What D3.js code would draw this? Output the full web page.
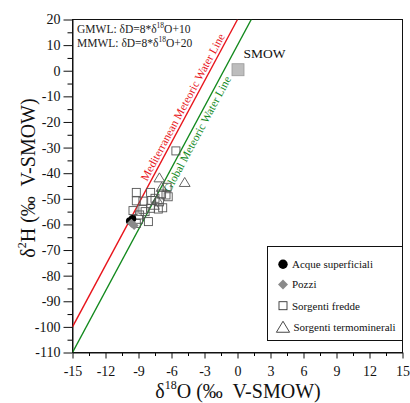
<!DOCTYPE html>
<html>
<head>
<meta charset="utf-8">
<script src="https://cdn.jsdelivr.net/npm/d3@7"></script>
<style>
  html, body { margin: 0; padding: 0; background: #fff; }
  svg { display: block; }
  text { font-family: "Liberation Serif", "Times New Roman", serif !important; }
</style>
</head>
<body>
<svg id="chart" width="410" height="403"></svg>
<script>
// Axis ticks
const xTicks = [-15, -12, -9, -6, -3, 0, 3, 6, 9, 12, 15];
const xMinorTicks = [-13.5, -10.5, -7.5, -4.5, -1.5, 1.5, 4.5, 7.5, 10.5, 13.5];
const yTicks = [20, 10, 0, -10, -20, -30, -40, -50, -60, -70, -80, -90, -100, -110];
const yMinorTicks = [15, 5, -5, -15, -25, -35, -45, -55, -65, -75, -85, -95, -105];

// Meteoric water lines: δD = slope * δ18O + intercept
const gmwl = { slope: 8, intercept: 10 };
const mmwl = { slope: 8, intercept: 20 };

// Samples [δ18O, δ2H]
const acqueSuperficiali = [[-9.8, -58.7], [-9.55, -57.8]];
const pozzi = [[-9.4, -60.4], [-9.65, -59.5]];
const sorgentiFredde = [
  [-5.6, -31.3], [-9.2, -47.5], [-7.9, -47.5], [-6.4, -45.5], [-6.9, -48.1],
  [-8.6, -50.9], [-7.8, -50.7], [-7.1, -51.2], [-6.5, -48.5], [-9.5, -54.6],
  [-8.6, -54.1], [-7.9, -53.7], [-7.2, -54.0], [-6.8, -53.5], [-9.0, -58.0],
  [-8.1, -58.9], [-9.2, -59.6], [-8.9, -56.3], [-8.4, -55.0], [-7.5, -49.8],
  [-9.2, -50.8], [-6.3, -49.2]
];
const sorgentiTermominerali = [[-7.1, -41.8], [-4.8, -43.6], [-6.9, -45.5], [-7.3, -50.3], [-7.6, -52.5]];
const smow = [[0, 0]];

const svg = d3.select("#chart");
const serif = "Liberation Serif";

const x = d3.scaleLinear().domain([-15, 15]).range([72.5, 402.5]);
const y = d3.scaleLinear().domain([-110, 20]).range([352.5, 19.5]);

const fmt = d => String(d);

// Minor ticks
svg.append("g")
  .attr("transform", `translate(0,${y(-110)})`)
  .call(d3.axisBottom(x).tickValues(xMinorTicks).tickSize(3.5).tickSizeOuter(0).tickFormat(""))
  .call(g => g.select(".domain").remove());
svg.append("g")
  .attr("transform", `translate(${x(-15)},0)`)
  .call(d3.axisLeft(y).tickValues(yMinorTicks).tickSize(5).tickSizeOuter(0).tickFormat(""))
  .call(g => g.select(".domain").remove());

// Major axes
const xAxis = svg.append("g")
  .attr("transform", `translate(0,${y(-110)})`)
  .call(d3.axisBottom(x).tickValues(xTicks).tickSize(6).tickSizeOuter(0).tickPadding(8).tickFormat(fmt));
const yAxis = svg.append("g")
  .attr("transform", `translate(${x(-15)},0)`)
  .call(d3.axisLeft(y).tickValues(yTicks).tickSize(9).tickSizeOuter(0).tickPadding(3).tickFormat(fmt));
[xAxis, yAxis].forEach(g => {
  g.attr("font-family", serif);
  g.selectAll("text").attr("font-family", serif).attr("font-size", 14).attr("fill", "#111");
  g.selectAll("line, path").attr("stroke", "#111");
});

// Frame
svg.append("rect")
  .attr("x", x(-15)).attr("y", y(20))
  .attr("width", x(15) - x(-15)).attr("height", y(-110) - y(20))
  .attr("fill", "none").attr("stroke", "#111").attr("stroke-width", 1);

// Water lines, clipped to the plot
svg.append("clipPath").attr("id", "plot-clip")
  .append("rect")
  .attr("x", x(-15)).attr("y", y(20))
  .attr("width", x(15) - x(-15)).attr("height", y(-110) - y(20));

function lineEnds(l) {
  const x0 = -15;
  const x1 = (20 - l.intercept) / l.slope;
  return [[x0, l.slope * x0 + l.intercept], [x1, 20]];
}
const lineGen = d3.line().x(d => x(d[0])).y(d => y(d[1]));
svg.append("path").attr("d", lineGen(lineEnds(mmwl)))
  .attr("clip-path", "url(#plot-clip)")
  .attr("stroke", "#e8141b").attr("stroke-width", 1.4).attr("fill", "none");
svg.append("path").attr("d", lineGen(lineEnds(gmwl)))
  .attr("clip-path", "url(#plot-clip)")
  .attr("stroke", "#11891c").attr("stroke-width", 1.4).attr("fill", "none");

// Line labels, parallel to the lines
const angle = Math.atan2(y(8) - y(0), x(1) - x(0)) * 180 / Math.PI;
function lineLabel(l, dD, text, color, dy) {
  const xv = (dD - l.intercept) / l.slope;
  svg.append("text")
    .attr("transform", `translate(${x(xv)},${y(dD)}) rotate(${angle})`)
    .attr("text-anchor", "middle")
    .attr("dy", dy)
    .attr("font-family", serif)
    .attr("font-size", 11.5)
    .attr("fill", color)
    .text(text);
}
lineLabel(mmwl, -15.5, "Mediterranean Meteoric Water Line", "#e8141b", -3);
lineLabel(gmwl, -23.5, "Global Meteoric Water Line", "#11891c", 10.5);

// Markers
const gPts = svg.append("g");
gPts.selectAll(".fredde").data(sorgentiFredde).join("rect")
  .attr("x", d => x(d[0]) - 4).attr("y", d => y(d[1]) - 4)
  .attr("width", 8).attr("height", 8)
  .attr("fill", "none").attr("stroke", "#555").attr("stroke-width", 0.9);

const tri = s => `M0,${-s * 0.55}L${s * 0.6},${s * 0.45}L${-s * 0.6},${s * 0.45}Z`;
gPts.selectAll(".termo").data(sorgentiTermominerali).join("path")
  .attr("transform", d => `translate(${x(d[0])},${y(d[1])})`)
  .attr("d", tri(9))
  .attr("fill", "none").attr("stroke", "#555").attr("stroke-width", 0.9);

gPts.selectAll(".acque").data(acqueSuperficiali).join("circle")
  .attr("cx", d => x(d[0])).attr("cy", d => y(d[1])).attr("r", 3.8)
  .attr("fill", "#000");

const diamond = s => `M0,${-s}L${s},0L0,${s}L${-s},0Z`;
gPts.selectAll(".pozzi").data(pozzi).join("path")
  .attr("transform", d => `translate(${x(d[0])},${y(d[1])})`)
  .attr("d", diamond(4.5))
  .attr("fill", "#8a8a8a");

// SMOW reference
svg.selectAll(".smow").data(smow).join("rect")
  .attr("x", d => x(d[0]) - 5.5).attr("y", d => y(d[1]) - 7)
  .attr("width", 12).attr("height", 12)
  .attr("fill", "#bdbdbd").attr("stroke", "#999").attr("stroke-width", 0.8);
svg.append("text").attr("x", x(0) + 6).attr("y", y(0) - 12.5)
  .attr("font-family", serif)
  .attr("font-size", 13.5).attr("fill", "#111").text("SMOW");

// Equations
function equation(yPos, label, tail) {
  const t = svg.append("text").attr("x", 77).attr("y", yPos)
    .attr("font-family", serif).attr("font-size", 11.5).attr("fill", "#222");
  t.append("tspan").text(label + " δD=8*δ");
  t.append("tspan").attr("font-size", 7.5).attr("dy", -5).text("18");
  t.append("tspan").attr("dy", 5).text("O+" + tail);
}
equation(32.5, "GMWL:", "10");
equation(47, "MMWL:", "20");

// Axis titles
const xt = svg.append("text").attr("x", 238).attr("y", 398)
  .attr("text-anchor", "middle").attr("font-family", serif).attr("font-size", 20).attr("fill", "#111")
  .style("white-space", "pre");
xt.append("tspan").text("δ");
xt.append("tspan").attr("font-size", 12).attr("dy", -9).text("18");
xt.append("tspan").attr("dy", 9).text("O (‰  V-SMOW)");

const yt = svg.append("text").attr("transform", "translate(35,178) rotate(-90)")
  .attr("text-anchor", "middle").attr("font-family", serif).attr("font-size", 20).attr("fill", "#111")
  .style("white-space", "pre");
yt.append("tspan").text("δ");
yt.append("tspan").attr("font-size", 12).attr("dy", -9).text("2");
yt.append("tspan").attr("dy", 9).text("H (‰  V-SMOW)");

// Legend
const legend = svg.append("g");
legend.append("rect").attr("x", 267.5).attr("y", 246.5).attr("width", 135).attr("height", 94)
  .attr("fill", "#fff").attr("stroke", "#111").attr("stroke-width", 1);
const legendItems = ["Acque superficiali", "Pozzi", "Sorgenti fredde", "Sorgenti termominerali"];
const legendY = [264.3, 284.5, 305.7, 327.3];
const mx = 283;
legend.append("circle").attr("cx", mx).attr("cy", legendY[0]).attr("r", 4.7).attr("fill", "#000");
legend.append("path").attr("transform", `translate(${mx},${legendY[1]})`).attr("d", diamond(5)).attr("fill", "#8a8a8a");
legend.append("rect").attr("x", mx - 4).attr("y", legendY[2] - 4).attr("width", 8).attr("height", 8)
  .attr("fill", "none").attr("stroke", "#333").attr("stroke-width", 0.9);
legend.append("path").attr("transform", `translate(${mx},${legendY[3]})`).attr("d", tri(11))
  .attr("fill", "none").attr("stroke", "#333").attr("stroke-width", 0.9);
legend.selectAll(".lt").data(legendItems).join("text")
  .attr("x", (d, i) => i === 3 ? 293.5 : 292)
  .attr("y", (d, i) => legendY[i] + 3.8)
  .attr("font-family", serif)
  .attr("font-size", 11).attr("fill", "#111")
  .text(d => d);
</script>
</body>
</html>
